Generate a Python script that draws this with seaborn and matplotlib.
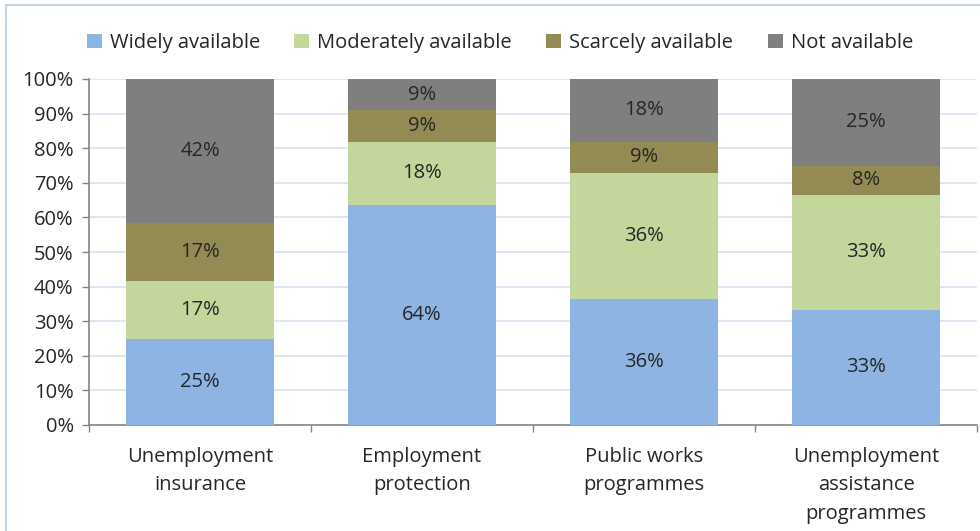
import numpy as np
import pandas as pd
import matplotlib
matplotlib.use("Agg")
import matplotlib.pyplot as plt
from matplotlib.lines import Line2D
from matplotlib.patches import Patch
import seaborn as sns

categories = ["Unemployment\ninsurance", "Employment\nprotection",
              "Public works\nprogrammes", "Unemployment\nassistance\nprogrammes"]
series = ["Widely available", "Moderately available", "Scarcely available", "Not available"]
widely = [25.0, 63.6, 36.4, 33.3]
moderately = [16.7, 18.2, 36.4, 33.3]
scarcely = [16.7, 9.1, 9.1, 8.3]
not_avail = [41.6, 9.1, 18.2, 25.1]
colors = ["#8EB4E3", "#C3D69B", "#948A54", "#7F7F7F"]
yticks = [0, 10, 20, 30, 40, 50, 60, 70, 80, 90, 100]

sns.set_theme(style="white")
plt.rcParams["font.family"] = ["Open Sans", "DejaVu Sans"]
FS = 14.5
TXT = "#262626"

fig = plt.figure(figsize=(9.8, 5.31), dpi=100)
ax = fig.add_axes([89/980, 1-425/531, 888/980, 346/531])

values = [widely, moderately, scarcely, not_avail]
bottom = np.zeros(len(categories))
for name, vals, col in zip(series, values, colors):
    df = pd.DataFrame({"cat": categories, "val": vals})
    sns.barplot(data=df, x="cat", y="val", color=col, width=0.667,
                bottom=bottom, ax=ax, saturation=1, errorbar=None, zorder=3,
                linewidth=0, edgecolor="none")
    bottom = bottom + np.array(vals)

for cont in ax.containers:
    ax.bar_label(cont, labels=[f"{v:.0f}%" for v in cont.datavalues],
                 label_type="center", fontsize=FS, color=TXT)

ax.set_ylim(0, 100)
ax.set_xlim(-0.5, 3.5)
ax.set_yticks(yticks)
ax.set_yticklabels([f"{t}%" for t in yticks], fontsize=FS, color=TXT)
ax.set_xlabel("")
ax.set_ylabel("")
ax.tick_params(axis="x", length=0, labelsize=FS, labelcolor=TXT, pad=16)
ax.tick_params(axis="y", length=5, width=1, color="#868686", direction="out", pad=6, left=True)
ax.yaxis.grid(True, color="#D9E1F2", linewidth=1.2, zorder=0)
ax.set_axisbelow(True)
for s in ["top", "right"]:
    ax.spines[s].set_visible(False)
for s in ["left", "bottom"]:
    ax.spines[s].set_color("#868686")
    ax.spines[s].set_linewidth(1.2)
ax.set_xticks([-0.5, 0.5, 1.5, 2.5, 3.5], minor=True)
ax.tick_params(axis="x", which="minor", length=5, width=1, color="#868686", direction="out", bottom=True)
for lab in ax.get_xticklabels():
    lab.set_linespacing(1.55)

handles = [Patch(facecolor=c, edgecolor="none") for c in colors]
fig.legend(handles, series, loc="center", bbox_to_anchor=(0.51, 1-43/531), ncol=4,
           frameon=False, fontsize=FS, handlelength=0.75, handleheight=0.75,
           handletextpad=0.4, columnspacing=1.7, labelcolor=TXT)

fig.add_artist(Line2D([6/980, 6/980], [0, 1-5/531], color="#C5D5EA", lw=1.5, transform=fig.transFigure))
fig.add_artist(Line2D([6/980, 1], [1-5/531, 1-5/531], color="#C5D5EA", lw=1.5, transform=fig.transFigure))

fig.savefig("out.png", dpi=100)
